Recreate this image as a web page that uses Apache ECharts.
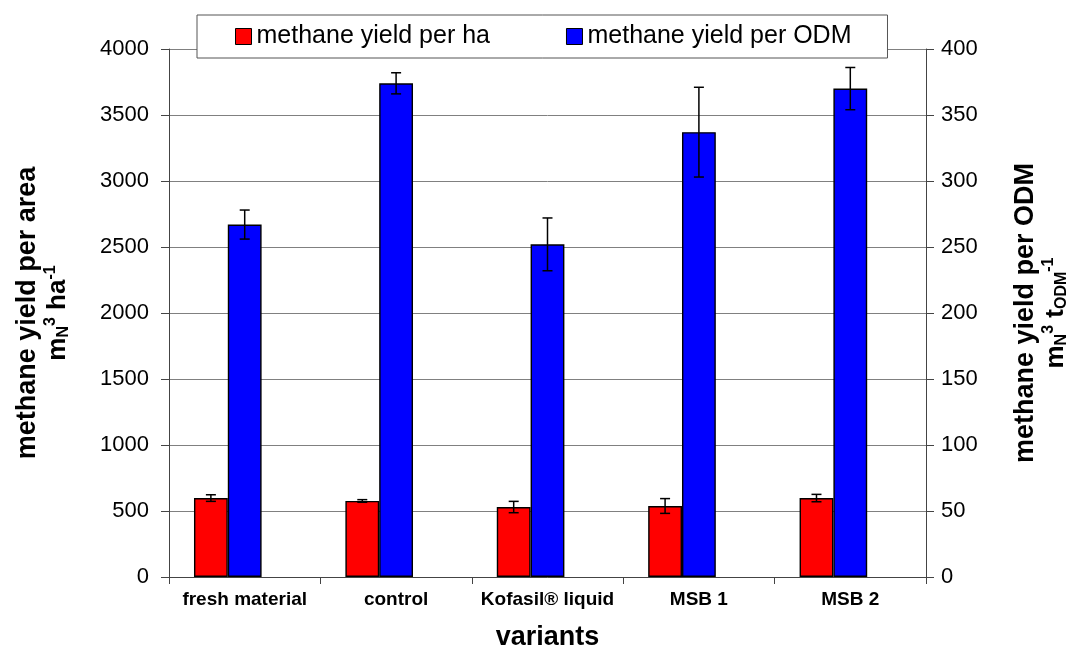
<!DOCTYPE html>
<html>
<head>
<meta charset="utf-8">
<script src="https://cdn.jsdelivr.net/npm/echarts@6/dist/echarts.min.js"></script>
<style>
  html, body { margin: 0; padding: 0; background: #fff; }
  #chart { width: 1071px; height: 650px; }
</style>
</head>
<body>
<div id="chart"></div>
<script>
var categories = ['fresh material', 'control', 'Kofasil® liquid', 'MSB 1', 'MSB 2'];
var perHa = [598, 576, 530, 538, 598];
var perHaErr = [25, 10, 43, 56, 28];
var perOdm = [267, 374, 252, 337, 370];
var perOdmErr = [11, 8, 20, 34, 16];

var FONT = 'Arial, "Liberation Sans", sans-serif';
var GAP = 0.33;

// error bar drawer, slot = bar position in the group of three (-1 red, 0 blue)
function errBar(slot) {
    return function (params, api) {
        var i = api.value(0), v = api.value(1), e = api.value(2);
        var band = api.size([1, 0])[0];
        var bw = band * (1 - GAP) / 3;
        var top = api.coord([i, v + e]);
        var bot = api.coord([i, v - e]);
        var x = top[0] + slot * bw;
        var st = { stroke: '#000', lineWidth: 1.5 };
        return {
            type: 'group',
            children: [
                { type: 'line', shape: { x1: x, y1: top[1], x2: x, y2: bot[1] }, style: st },
                { type: 'line', shape: { x1: x - 5, y1: top[1], x2: x + 5, y2: top[1] }, style: st },
                { type: 'line', shape: { x1: x - 5, y1: bot[1], x2: x + 5, y2: bot[1] }, style: st }
            ]
        };
    };
}

var richName = {
    t: { fontSize: 27, fontWeight: 'bold', fontFamily: FONT, color: '#000', lineHeight: 30 },
    u: { fontSize: 26, fontWeight: 'bold', fontFamily: FONT, color: '#000', lineHeight: 29 },
    sup: { fontSize: 16, fontWeight: 'bold', fontFamily: FONT, color: '#000', verticalAlign: 'top', lineHeight: 16 },
    sub: { fontSize: 16, fontWeight: 'bold', fontFamily: FONT, color: '#000', verticalAlign: 'bottom', lineHeight: 16 }
};

function plain(v) { return String(v); }

var chart = echarts.init(document.getElementById('chart'));
chart.setOption({
    animation: false,
    textStyle: { fontFamily: FONT },
    grid: { left: 169, right: 145, top: 49, bottom: 73, containLabel: false, outerBoundsMode: 'none' },
    legend: {
        data: ['methane yield per ha', 'methane yield per ODM'],
        icon: 'rect',
        left: 197,
        top: 15,
        padding: [9, 36, 9, 38],
        itemGap: 76,
        itemWidth: 16,
        itemHeight: 16,
        backgroundColor: '#fff',
        borderColor: '#555',
        borderWidth: 1,
        itemStyle: { borderColor: '#000', borderWidth: 1 },
        textStyle: { fontSize: 25, color: '#000', fontFamily: FONT }
    },
    xAxis: {
        type: 'category',
        data: categories,
        axisLine: { show: true, lineStyle: { color: '#444', width: 1 } },
        axisTick: { show: true, length: 7, interval: 0, lineStyle: { color: '#444' } },
        axisLabel: { interval: 0, margin: 13, fontSize: 19, fontWeight: 'bold', color: '#000', fontFamily: FONT },
        name: 'variants',
        nameLocation: 'middle',
        nameGap: 47,
        nameTextStyle: { fontSize: 27, fontWeight: 'bold', color: '#000', fontFamily: FONT, verticalAlign: 'top' }
    },
    yAxis: [{
        type: 'value',
        min: 0,
        max: 4000,
        interval: 500,
        axisLine: { show: true, lineStyle: { color: '#444', width: 1 } },
        axisTick: { show: true, length: 8, lineStyle: { color: '#444' } },
        axisLabel: { margin: 20, fontSize: 22, color: '#000', fontFamily: FONT, formatter: plain },
        splitLine: { show: true, lineStyle: { color: '#808080', width: 1 } },
        name: '{t|methane yield per area}\n{u|m}{sub|N}{sup|3}{u| ha}{sup|-1}',
        nameLocation: 'middle',
        nameGap: 97,
        nameRotate: 90,
        nameTextStyle: { align: 'center', rich: richName }
    }, {
        type: 'value',
        position: 'right',
        min: 0,
        max: 400,
        interval: 50,
        axisLine: { show: true, lineStyle: { color: '#444', width: 1 } },
        axisTick: { show: true, length: 8, lineStyle: { color: '#444' } },
        axisLabel: { margin: 15, fontSize: 22, color: '#000', fontFamily: FONT, formatter: plain },
        splitLine: { show: false },
        name: '{t|methane yield per ODM}\n{u|m}{sub|N}{sup|3}{u| t}{sub|ODM}{sup|-1}',
        nameLocation: 'middle',
        nameGap: 85,
        nameRotate: 90,
        nameTextStyle: { align: 'center', rich: richName }
    }],
    series: [{
        name: 'methane yield per ha',
        type: 'bar',
        yAxisIndex: 0,
        barGap: 0,
        barCategoryGap: (GAP * 100) + '%',
        data: perHa,
        itemStyle: { color: '#ff0000', borderColor: '#000', borderWidth: 1.4 }
    }, {
        name: 'methane yield per ODM',
        type: 'bar',
        yAxisIndex: 1,
        barGap: 0,
        barCategoryGap: (GAP * 100) + '%',
        data: perOdm,
        itemStyle: { color: '#0000ff', borderColor: '#000', borderWidth: 1.4 }
    }, {
        // empty third slot that keeps the pair left of centre
        type: 'bar',
        yAxisIndex: 0,
        barGap: 0,
        barCategoryGap: (GAP * 100) + '%',
        data: categories.map(function () { return '-'; })
    }, {
        type: 'custom',
        yAxisIndex: 0,
        z: 5,
        renderItem: errBar(-1),
        encode: { x: 0, y: 1 },
        data: perHa.map(function (v, i) { return [i, v, perHaErr[i]]; })
    }, {
        type: 'custom',
        yAxisIndex: 1,
        z: 5,
        renderItem: errBar(0),
        encode: { x: 0, y: 1 },
        data: perOdm.map(function (v, i) { return [i, v, perOdmErr[i]]; })
    }]
});
</script>
</body>
</html>
